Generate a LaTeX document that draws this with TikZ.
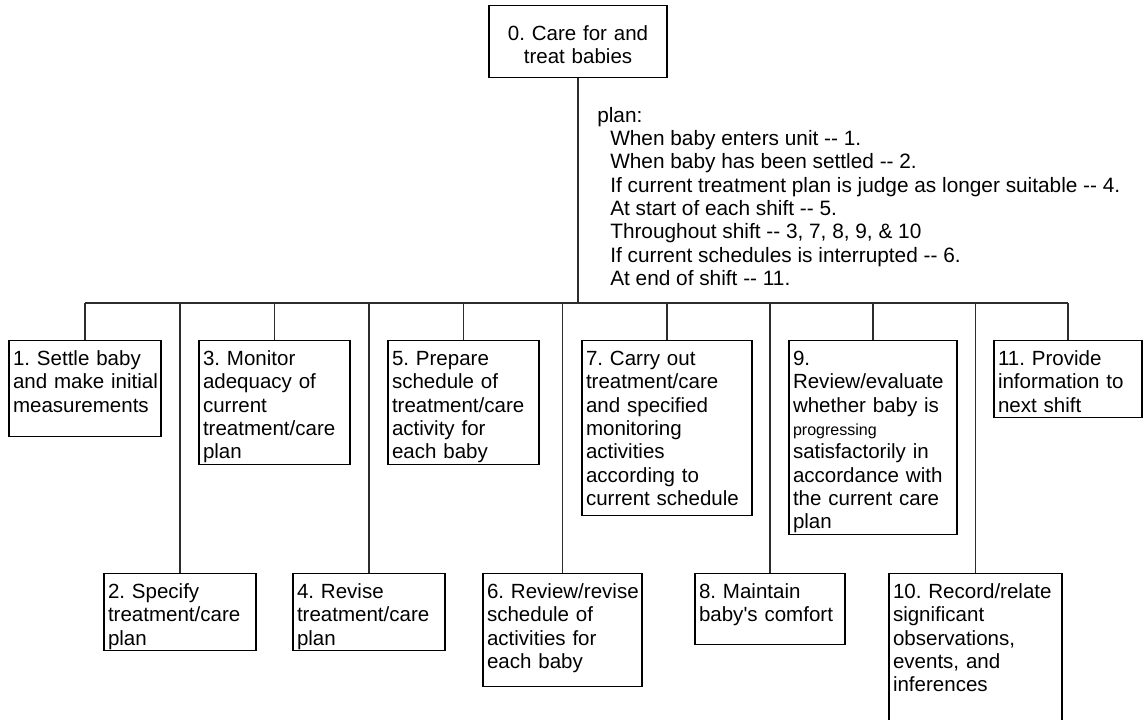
\documentclass[tikz,border=0pt]{standalone}
\usepackage{fontspec}
\setmainfont[Ligatures=TeXOff]{Liberation Sans}
\usepackage{xcolor}
\usepackage{tikz}
\usetikzlibrary{positioning, calc}
\frenchspacing
\hyphenpenalty=10000
\exhyphenpenalty=10000
\definecolor{linegray}{RGB}{45,45,45}
\tikzset{
    % Task boxes of the hierarchy
    taskbox/.style={rectangle, draw=black, line width=0.9pt, anchor=north, align=left,
        inner xsep=0.1cm, inner ysep=0pt, text height=0.625cm,
        font=\fontsize{14.6}{16.6}\selectfont},
    rootbox/.style={taskbox, align=center},
    % Plan text beside the stem
    plantext/.style={anchor=north west, align=left, inner sep=0pt,
        font=\fontsize{14.8}{16.6}\selectfont},
    % Connector lines
    treeline/.style={draw=linegray, line width=0.9pt},
}
\begin{document}
\begin{tikzpicture}
\useasboundingbox (0,0) rectangle (28.575,-17.975);

% ============================================================
% Goal and plan
% ============================================================
\node[rootbox, text width=4.25cm, text height=0.8625cm, text depth=0.9375cm] (root) at (14.45,-0.125) {0. Care for and\\treat babies};

\node[plantext] (plan) at (14.925,-2.67) {plan:\\
  \hspace*{0.325cm}When baby enters unit -- 1.\\
  \hspace*{0.325cm}When baby has been settled -- 2.\\
  \hspace*{0.325cm}If current treatment plan is judge as longer suitable -- 4.\\
  \hspace*{0.325cm}At start of each shift -- 5.\\
  \hspace*{0.325cm}Throughout shift -- 3, 7, 8, 9, \& 10\\
  \hspace*{0.325cm}If current schedules is interrupted -- 6.\\
  \hspace*{0.325cm}At end of shift -- 11.};

% ============================================================
% Upper row of subtasks
% ============================================================
\node[taskbox, text width=3.6cm, text depth=1.775cm] (b1) at (2.125,-8.5) {1. Settle baby\\and~make~initial\\measurements};
\node[taskbox, text width=3.575cm, text depth=2.475cm] (b3) at (6.8625,-8.5) {3. Monitor\\adequacy of\\current\\treatment/care\\plan};
\node[taskbox, text width=3.575cm, text depth=2.475cm] (b5) at (11.5875,-8.5) {5. Prepare\\schedule of\\treatment/care\\activity for\\each baby};
\node[taskbox, text width=4.05cm, text depth=3.75cm] (b7) at (16.675,-8.5) {7. Carry out\\treatment/care\\and specified\\monitoring\\activities\\according to\\current~schedule};
\node[taskbox, text width=4.0cm, text depth=4.225cm] (b9) at (21.825,-8.5) {9.\\Review/evaluate\\whether baby is\\{\fontsize{11.4}{16.6}\selectfont progressing}\\satisfactorily in\\accordance with\\the current care\\plan};
\node[taskbox, text width=3.5cm, text depth=1.3cm] (b11) at (26.7,-8.5) {11. Provide\\information to\\next shift};

% ============================================================
% Lower row of subtasks
% ============================================================
\node[taskbox, text width=3.6cm, text depth=1.3cm] (b2) at (4.5,-14.325) {2. Specify\\treatment/care\\plan};
\node[taskbox, text width=3.6cm, text depth=1.3cm] (b4) at (9.225,-14.325) {4. Revise\\treatment/care\\plan};
\node[taskbox, text width=3.775cm, text depth=2.2cm] (b6) at (14.0625,-14.325) {6.~Review/revise\\schedule of\\activities for\\each baby};
\node[taskbox, text width=3.55cm, text depth=1.15cm] (b8) at (19.25,-14.325) {8. Maintain\\baby's comfort};
\node[taskbox, text width=4.125cm, text depth=3.55cm] (b10) at (24.3875,-14.325) {10.~Record/relate\\significant\\observations,\\events, and\\inferences};

% ============================================================
% Connectors
% ============================================================
\coordinate (bus) at (0,-7.575);
\draw[treeline] (root.south) -- (root.south |- bus);
\draw[treeline] (b1.north |- bus) -- (b11.north |- bus);
\foreach \i in {1,...,11}
  \draw[treeline] (b\i.north |- bus) -- (b\i.north);

\end{tikzpicture}
\end{document}
